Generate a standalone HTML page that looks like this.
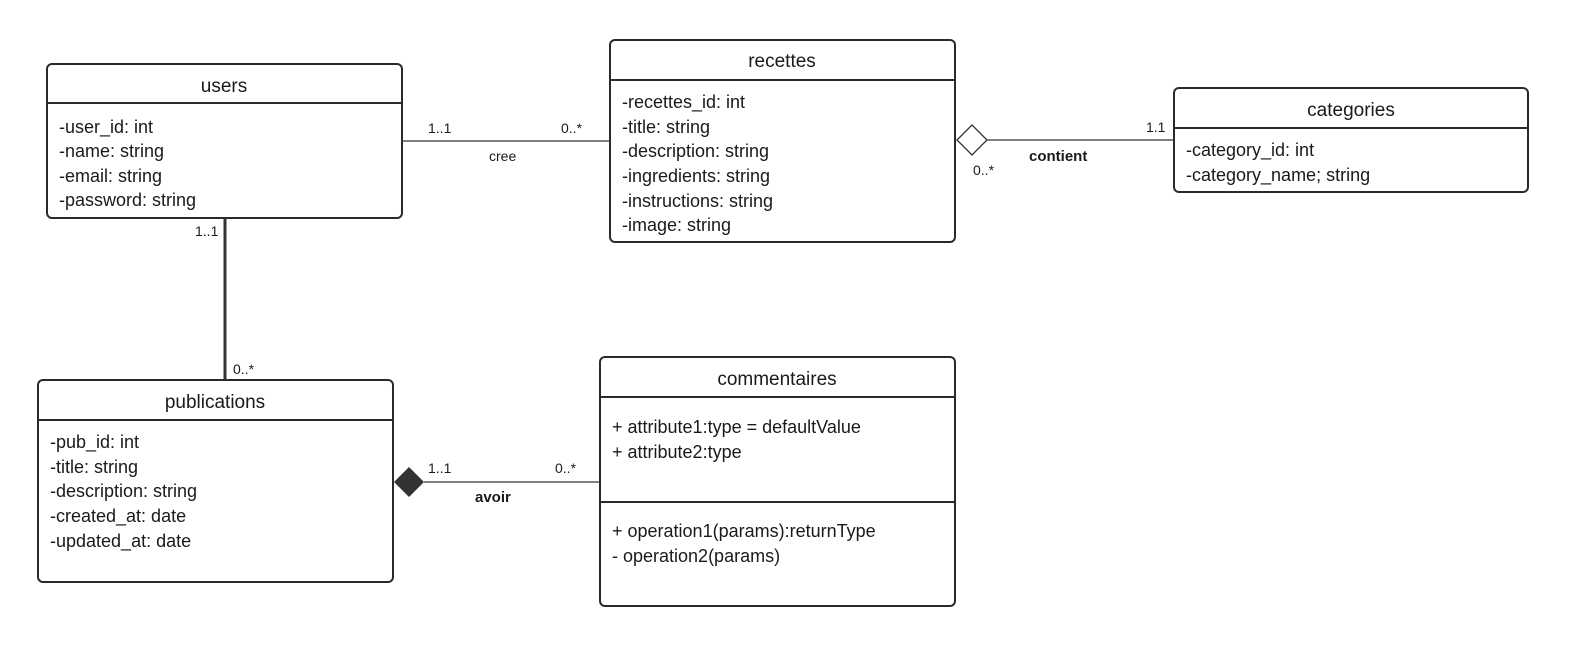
<!DOCTYPE html>
<html><head><meta charset="utf-8"><style>
html,body{margin:0;padding:0;background:#fff;}
svg{display:block;}
text{font-family:"Liberation Sans",sans-serif;fill:#1a1a1a;}
.t{font-size:19px;}
.a{font-size:18px;}
.s{font-size:14px;}
.b{font-size:15px;font-weight:bold;fill:#333;}
</style></head><body>
<svg width="1591" height="655" viewBox="0 0 1591 655" xmlns="http://www.w3.org/2000/svg">
<g fill="#fff" stroke="#2a2a2a" stroke-width="2">
<rect x="47" y="64" width="355" height="154" rx="5"/>
<rect x="610" y="40" width="345" height="202" rx="5"/>
<rect x="1174" y="88" width="354" height="104" rx="5"/>
<rect x="38" y="380" width="355" height="202" rx="5"/>
<rect x="600" y="357" width="355" height="249" rx="5"/>
</g>
<g stroke="#2a2a2a" stroke-width="2">
<line x1="47" y1="103" x2="402" y2="103"/>
<line x1="610" y1="80" x2="955" y2="80"/>
<line x1="1174" y1="128" x2="1528" y2="128"/>
<line x1="38" y1="420" x2="393" y2="420"/>
<line x1="600" y1="397" x2="955" y2="397"/>
<line x1="600" y1="502" x2="955" y2="502"/>
</g>
<g stroke="#333" stroke-width="1.3" fill="none">
<line x1="402" y1="141" x2="610" y2="141"/>
<line x1="987" y1="140" x2="1174" y2="140"/>
<line x1="424" y1="482" x2="600" y2="482"/>
</g>
<line x1="225" y1="218" x2="225" y2="380" stroke="#333" stroke-width="3"/>
<polygon points="957,140 972,125 987,140 972,155" fill="#fff" stroke="#333" stroke-width="1.3"/>
<polygon points="394,482 409,467 424,482 409,497" fill="#333"/>
<g class="t" text-anchor="middle">
<text x="224" y="92">users</text>
<text x="782" y="67">recettes</text>
<text x="1351" y="116">categories</text>
<text x="215" y="408">publications</text>
<text x="777" y="385">commentaires</text>
</g>
<g class="a">
<text x="59" y="133">-user_id: int</text>
<text x="59" y="157">-name: string</text>
<text x="59" y="182">-email: string</text>
<text x="59" y="206">-password: string</text>
<text x="622" y="108">-recettes_id: int</text>
<text x="622" y="133">-title: string</text>
<text x="622" y="157">-description: string</text>
<text x="622" y="182">-ingredients: string</text>
<text x="622" y="207">-instructions: string</text>
<text x="622" y="231">-image: string</text>
<text x="1186" y="156">-category_id: int</text>
<text x="1186" y="181">-category_name; string</text>
<text x="50" y="448">-pub_id: int</text>
<text x="50" y="473">-title: string</text>
<text x="50" y="497">-description: string</text>
<text x="50" y="522">-created_at: date</text>
<text x="50" y="547">-updated_at: date</text>
<text x="612" y="433">+ attribute1:type = defaultValue</text>
<text x="612" y="458">+ attribute2:type</text>
<text x="612" y="537">+ operation1(params):returnType</text>
<text x="612" y="562">- operation2(params)</text>
</g>
<g class="s">
<text x="428" y="133">1..1</text>
<text x="561" y="133">0..*</text>
<text x="489" y="161">cree</text>
<text x="1146" y="132">1.1</text>
<text x="973" y="175">0..*</text>
<text x="195" y="236">1..1</text>
<text x="233" y="374">0..*</text>
<text x="428" y="473">1..1</text>
<text x="555" y="473">0..*</text>
</g>
<g class="b">
<text x="1029" y="161">contient</text>
<text x="475" y="502">avoir</text>
</g>
</svg>
</body></html>
